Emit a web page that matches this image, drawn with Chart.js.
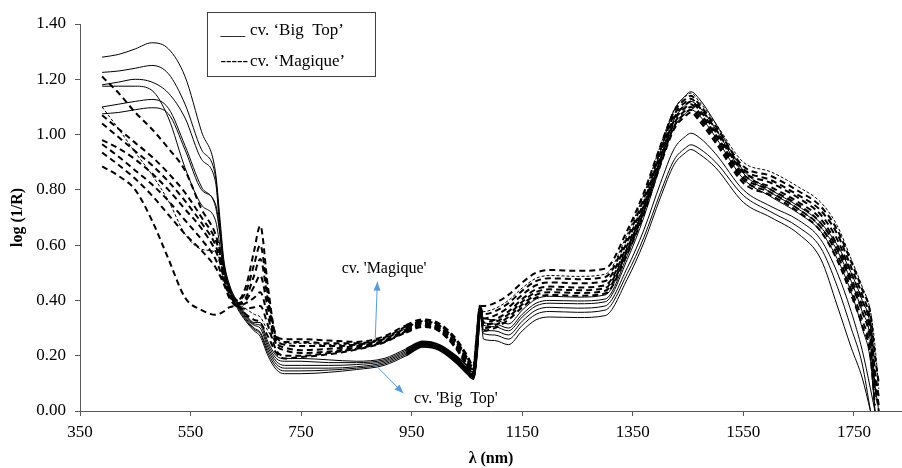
<!DOCTYPE html>
<html><head><meta charset="utf-8">
<script src="https://cdn.jsdelivr.net/npm/chart.js@4.4.1/dist/chart.umd.min.js"></script>
<style>html,body{margin:0;padding:0;background:#fff;}</style>
</head><body>
<canvas id="c" width="902" height="468"></canvas>
<script>
// wavelength grid (nm)
const wavelengths = [390,420,450,480,510,540,570,595,603,610,620,635,650,665,676,690,705,720,750,800,850,900,940,970,1000,1030,1050,1062,1068,1074,1080,1100,1125,1150,1175,1200,1250,1300,1340,1370,1400,1425,1445,1455,1470,1500,1550,1600,1650,1690,1720,1745,1765,1780,1788,1795];

// cv. 'Big Top' spectra (solid)
const bigTop1 = [1.28,1.29,1.31,1.332,1.31,1.21,1.01,0.865,0.70,0.55,0.46,0.395,0.35,0.32,0.32,0.25,0.20,0.19,0.19,0.185,0.18,0.19,0.225,0.252,0.24,0.20,0.165,0.15,0.25,0.375,0.335,0.33,0.315,0.365,0.405,0.415,0.412,0.42,0.582,0.743,0.942,1.089,1.14,1.155,1.13,1.04,0.87,0.80,0.74,0.68,0.60,0.50,0.40,0.30,0.10,0.0];
const bigTop2 = [1.225,1.23,1.24,1.25,1.22,1.11,0.945,0.85,0.68,0.54,0.455,0.39,0.345,0.315,0.31,0.24,0.19,0.18,0.18,0.175,0.175,0.185,0.22,0.248,0.236,0.195,0.155,0.14,0.24,0.37,0.32,0.315,0.30,0.35,0.39,0.40,0.398,0.405,0.562,0.72,0.913,1.056,1.106,1.12,1.10,1.02,0.86,0.79,0.73,0.665,0.58,0.47,0.36,0.25,0.0,null];
const bigTop3 = [1.18,1.19,1.20,1.19,1.15,1.06,0.91,0.83,0.66,0.53,0.45,0.385,0.34,0.31,0.30,0.23,0.18,0.165,0.165,0.165,0.168,0.18,0.215,0.244,0.232,0.19,0.15,0.13,0.23,0.365,0.31,0.305,0.29,0.34,0.38,0.39,0.388,0.395,0.548,0.701,0.888,1.027,1.076,1.09,1.07,0.99,0.84,0.775,0.715,0.65,0.55,0.43,0.30,0.18,0.0,null];
const bigTop4 = [1.175,1.175,1.175,1.16,1.06,0.88,0.745,0.69,0.60,0.51,0.445,0.38,0.335,0.30,0.285,0.22,0.17,0.155,0.155,0.155,0.16,0.175,0.21,0.24,0.228,0.185,0.145,0.125,0.22,0.36,0.295,0.29,0.275,0.325,0.365,0.375,0.372,0.38,0.518,0.655,0.824,0.949,0.993,1.005,0.99,0.93,0.80,0.74,0.69,0.62,0.50,0.36,0.22,0.08,0.0,null];
const bigTop5 = [1.10,1.11,1.12,1.127,1.095,0.96,0.81,0.74,0.64,0.52,0.44,0.375,0.33,0.295,0.28,0.21,0.16,0.145,0.145,0.148,0.155,0.17,0.205,0.236,0.224,0.18,0.14,0.12,0.21,0.355,0.28,0.275,0.26,0.31,0.35,0.36,0.357,0.365,0.497,0.628,0.79,0.909,0.951,0.963,0.95,0.90,0.78,0.72,0.665,0.59,0.45,0.30,0.17,0.0,null,null];
const bigTop6 = [1.075,1.08,1.09,1.097,1.075,0.945,0.80,0.75,0.65,0.52,0.44,0.37,0.325,0.29,0.27,0.20,0.15,0.135,0.135,0.14,0.15,0.165,0.20,0.232,0.22,0.175,0.135,0.115,0.20,0.35,0.26,0.255,0.24,0.29,0.33,0.34,0.338,0.345,0.477,0.609,0.772,0.892,0.934,0.946,0.93,0.88,0.755,0.70,0.64,0.55,0.38,0.23,0.12,0.0,null,null];

// cv. 'Magique' spectra (dashed)
const magique1 = [1.21,1.15,1.08,1.02,0.95,0.87,0.73,0.64,0.58,0.50,0.44,0.40,0.45,0.58,0.67,0.45,0.27,0.26,0.26,0.255,0.25,0.27,0.31,0.33,0.315,0.26,0.20,0.16,0.27,0.38,0.38,0.39,0.42,0.465,0.50,0.51,0.507,0.515,0.653,0.79,0.959,1.084,1.128,1.14,1.11,1.03,0.885,0.85,0.795,0.74,0.655,0.54,0.44,0.35,0.20,0.10];
const magique2 = [1.10,1.02,0.935,0.855,0.76,0.64,0.585,0.575,0.55,0.49,0.43,0.39,0.37,0.35,0.34,0.29,0.25,0.245,0.245,0.24,0.24,0.262,0.30,0.325,0.31,0.255,0.195,0.155,0.265,0.378,0.36,0.37,0.40,0.445,0.48,0.49,0.487,0.495,0.639,0.783,0.96,1.091,1.137,1.15,1.12,1.04,0.90,0.865,0.81,0.755,0.67,0.55,0.45,0.36,0.24,0.08];
const magique3 = [1.07,1.02,0.97,0.92,0.86,0.79,0.70,0.62,0.57,0.50,0.44,0.40,0.43,0.53,0.60,0.42,0.27,0.25,0.25,0.245,0.245,0.265,0.305,0.322,0.305,0.25,0.19,0.15,0.26,0.375,0.35,0.36,0.39,0.435,0.47,0.48,0.477,0.485,0.627,0.769,0.943,1.072,1.117,1.13,1.10,1.02,0.875,0.835,0.78,0.725,0.64,0.52,0.42,0.32,0.15,0.05];
const magique4 = [1.04,0.99,0.94,0.89,0.83,0.76,0.68,0.60,0.55,0.49,0.43,0.39,0.41,0.49,0.55,0.40,0.26,0.24,0.235,0.235,0.24,0.26,0.30,0.318,0.30,0.245,0.185,0.145,0.255,0.372,0.335,0.345,0.375,0.42,0.455,0.465,0.462,0.47,0.613,0.756,0.932,1.062,1.107,1.12,1.09,1.01,0.865,0.825,0.77,0.71,0.62,0.50,0.40,0.30,0.12,0.02];
const magique5 = [0.98,0.95,0.91,0.86,0.80,0.73,0.66,0.58,0.54,0.48,0.425,0.385,0.40,0.45,0.49,0.37,0.25,0.23,0.22,0.225,0.235,0.255,0.295,0.315,0.298,0.24,0.18,0.14,0.25,0.37,0.32,0.33,0.36,0.405,0.44,0.45,0.447,0.455,0.599,0.743,0.92,1.051,1.097,1.11,1.08,1.0,0.855,0.81,0.755,0.695,0.60,0.48,0.38,0.28,0.10,0.0];
const magique6 = [0.965,0.92,0.87,0.82,0.76,0.69,0.62,0.55,0.51,0.47,0.42,0.38,0.39,0.41,0.43,0.34,0.24,0.22,0.21,0.215,0.23,0.252,0.29,0.312,0.295,0.235,0.175,0.135,0.245,0.368,0.31,0.32,0.35,0.395,0.43,0.44,0.437,0.445,0.589,0.733,0.91,1.041,1.087,1.10,1.07,0.99,0.845,0.80,0.745,0.68,0.585,0.46,0.36,0.25,0.08,null];
const magique7 = [0.935,0.89,0.84,0.78,0.71,0.64,0.58,0.52,0.49,0.46,0.41,0.375,0.37,0.375,0.38,0.31,0.22,0.20,0.20,0.21,0.225,0.25,0.288,0.31,0.292,0.23,0.17,0.13,0.24,0.365,0.30,0.31,0.34,0.385,0.42,0.43,0.427,0.435,0.579,0.723,0.90,1.031,1.077,1.09,1.06,0.98,0.835,0.79,0.73,0.665,0.565,0.44,0.33,0.22,0.05,null];
const magique8 = [0.885,0.85,0.80,0.69,0.55,0.41,0.365,0.348,0.352,0.36,0.375,0.38,0.35,0.33,0.32,0.27,0.21,0.19,0.195,0.205,0.222,0.248,0.285,0.305,0.29,0.228,0.165,0.125,0.235,0.362,0.29,0.30,0.33,0.375,0.41,0.42,0.417,0.425,0.569,0.713,0.89,1.021,1.067,1.08,1.05,0.97,0.825,0.78,0.72,0.65,0.545,0.42,0.31,0.20,0.02,null];

const xTickValues = [350,550,750,950,1150,1350,1550,1750];
const yTickValues = [0,0.2,0.4,0.6,0.8,1.0,1.2,1.4];

const SERIF = '"Liberation Serif", "Times New Roman", serif';

function series(values, kind) {
  const base = kind === 'thick' ? 2 : 1;
  return {
    data: wavelengths.map((w, i) => ({x: w, y: values[i]})),
    borderColor: '#000',
    borderWidth: base,
    borderDash: kind === 'solid' ? [] : (kind === 'thin' ? [3, 2] : [6, 4]),
    pointRadius: 0,
    fill: false,
    spanGaps: false,
    cubicInterpolationMode: 'monotone',
    segment: {
      borderWidth: c => (c.p0.parsed.x >= 940 && c.p1.parsed.x <= 1075) ? base + 0.7 : base
    }
  };
}

const datasets = [
  series(magique1, 'thick'), series(magique2, 'thin'), series(magique3, 'thick'), series(magique4, 'thick'),
  series(magique5, 'thick'), series(magique6, 'thick'), series(magique7, 'thick'), series(magique8, 'thick'),
  series(bigTop1, 'solid'), series(bigTop2, 'solid'), series(bigTop3, 'solid'),
  series(bigTop4, 'solid'), series(bigTop5, 'solid'), series(bigTop6, 'solid')
];

// annotation anchors in data units
const notes = [
  {text: "cv. 'Magique'", x: 900, y: 0.514, from: [884, 0.257], to: [888, 0.468]},
  {text: "cv. 'Big  Top'", x: 1030, y: 0.045, from: [884, 0.167], to: [935, 0.064]}
];

function drawArrow(ctx, x1, y1, x2, y2) {
  ctx.beginPath(); ctx.moveTo(x1, y1); ctx.lineTo(x2, y2); ctx.stroke();
  const a = Math.atan2(y2 - y1, x2 - x1), L = 9, W = 3.5;
  ctx.beginPath(); ctx.moveTo(x2, y2);
  ctx.lineTo(x2 - L * Math.cos(a) + W * Math.sin(a), y2 - L * Math.sin(a) - W * Math.cos(a));
  ctx.lineTo(x2 - L * Math.cos(a) - W * Math.sin(a), y2 - L * Math.sin(a) + W * Math.cos(a));
  ctx.closePath(); ctx.fill();
}

const extras = {
  id: 'extras',
  afterDatasetsDraw(chart) {
    const ctx = chart.ctx, xs = chart.scales.x, ys = chart.scales.y;
    ctx.save();
    ctx.strokeStyle = '#5b9bd5'; ctx.fillStyle = '#5b9bd5'; ctx.lineWidth = 1;
    notes.forEach(n => {
      drawArrow(ctx, xs.getPixelForValue(n.from[0]), ys.getPixelForValue(n.from[1]),
                xs.getPixelForValue(n.to[0]), ys.getPixelForValue(n.to[1]));
    });
    ctx.fillStyle = '#000';
    ctx.font = '16px ' + SERIF;
    ctx.textAlign = 'center'; ctx.textBaseline = 'middle';
    notes.forEach(n => ctx.fillText(n.text, xs.getPixelForValue(n.x), ys.getPixelForValue(n.y)));
    // legend box
    ctx.fillStyle = '#fff';
    ctx.fillRect(207.5, 12.5, 168, 64);
    ctx.strokeStyle = '#404040'; ctx.lineWidth = 1;
    ctx.strokeRect(207.5, 12.5, 168, 64);
    ctx.fillStyle = '#000';
    ctx.textAlign = 'left'; ctx.textBaseline = 'alphabetic';
    ctx.font = '16.5px ' + SERIF;
    ctx.fillText('___', 220.5, 35);
    ctx.fillText('-----', 220.5, 66);
    ctx.font = '17px ' + SERIF;
    ctx.fillText('cv. \u2018Big  Top\u2019', 250, 35);
    ctx.fillText('cv. \u2018Magique\u2019', 250, 66);
    ctx.restore();
  }
};

new Chart(document.getElementById('c'), {
  type: 'line',
  data: {datasets},
  plugins: [extras],
  options: {
    responsive: false,
    animation: false,
    layout: {padding: {top: 24, right: 0, left: 0, bottom: 0}},
    plugins: {legend: {display: false}, tooltip: {enabled: false}},
    scales: {
      x: {
        type: 'linear', min: 350, max: 1837,
        afterBuildTicks: s => { s.ticks = xTickValues.map(v => ({value: v})); },
        afterFit: s => { s.height = 57; },
        grid: {drawOnChartArea: false, drawTicks: true, tickLength: 5, color: '#595959'},
        border: {display: true, color: '#595959', width: 1},
        ticks: {color: '#000', font: {family: SERIF, size: 17}, padding: 6, maxRotation: 0, autoSkip: false, callback: v => String(v)},
        title: {display: true, text: 'λ (nm)', color: '#000', font: {family: SERIF, size: 16, weight: 'bold'}, padding: {top: 0, bottom: 0}}
      },
      y: {
        min: 0, max: 1.4,
        afterBuildTicks: s => { s.ticks = yTickValues.map(v => ({value: v})); },
        afterFit: s => { s.width = 80; },
        grid: {drawOnChartArea: false, drawTicks: true, tickLength: 5, color: '#595959'},
        border: {display: true, color: '#595959', width: 1},
        ticks: {color: '#000', font: {family: SERIF, size: 17}, padding: 9, callback: v => Number(v).toFixed(2)},
        title: {display: true, text: 'log (1/R)', color: '#000', font: {family: SERIF, size: 16, weight: 'bold'}, padding: {top: 8, bottom: 0}}
      }
    }
  }
});
</script>
</body></html>
